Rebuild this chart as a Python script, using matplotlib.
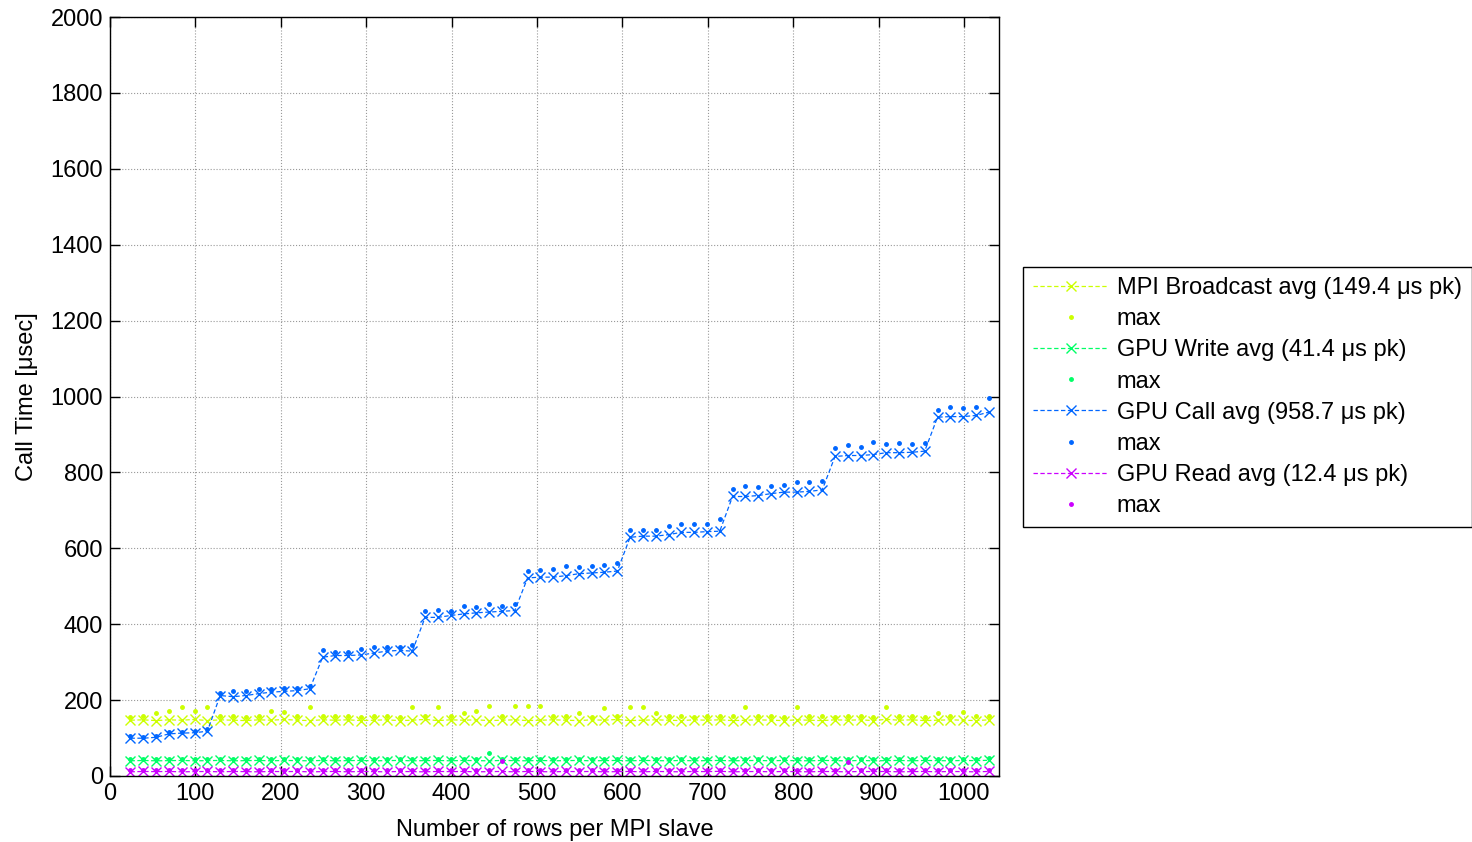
import numpy as np
import matplotlib
matplotlib.use('Agg')
from matplotlib import pyplot as plt

plt.rcParams['font.family'] = ['Liberation Sans', 'DejaVu Sans']

# rows per MPI slave
rows = [24, 39, 54, 69, 84, 99, 114, 129, 144, 159, 174, 189, 204, 219, 234, 249,
        264, 279, 294, 309, 324, 339, 354, 369, 384, 399, 414, 429, 444, 459, 474,
        489, 504, 519, 534, 549, 564, 579, 594, 609, 624, 639, 654, 669, 684, 699,
        714, 729, 744, 759, 774, 789, 804, 819, 834, 849, 864, 879, 894, 909, 924,
        939, 954, 969, 984, 999, 1014, 1029]

bcast_avg = [147, 148, 146, 148, 147, 149, 146, 148, 147, 146, 148, 147, 149, 147,
             146, 148, 147, 148, 146, 147, 148, 146, 147, 149, 146, 148, 147, 148,
             146, 147, 148, 146, 147, 148, 147, 146, 148, 147, 149, 146, 147, 148,
             147, 146, 148, 147, 148, 146, 147, 148, 147, 146, 148, 147, 146, 148,
             147, 148, 146, 149.4, 147, 148, 146, 147, 148, 147, 146, 148]
bcast_max = [156, 158, 167, 172, 183, 172, 183, 157, 158, 156, 159, 170, 168, 157,
             181, 158, 157, 159, 156, 158, 157, 156, 182, 158, 183, 157, 167, 170,
             184, 157, 184, 184, 184, 158, 157, 165, 156, 180, 157, 181, 182, 167,
             158, 157, 156, 158, 157, 158, 181, 157, 158, 156, 182, 157, 158, 156,
             157, 158, 156, 181, 158, 157, 156, 167, 158, 169, 157, 158]

write_avg = [40, 41, 40, 40.5, 41, 40, 40.5, 41, 40, 40.5, 41, 40, 41, 40.5, 40, 41,
             40, 40.5, 41, 40, 40.5, 41, 40, 40.5, 41, 40, 41, 40.5, 40, 41, 40.5,
             40, 41, 40, 40.5, 41, 40, 40.5, 41, 40, 41, 40.5, 40, 41, 40, 40.5,
             41, 40, 40.5, 41, 40, 41, 40.5, 40, 41, 40.5, 40, 41, 40, 40.5, 41,
             40, 41, 40.5, 40, 41, 40.5, 41.4]
write_max = [44, 45, 44, 45, 44, 45, 44, 45, 44, 45, 44, 45, 44, 45, 44, 45, 44,
             45, 44, 45, 44, 45, 44, 45, 44, 45, 44, 45, 60, 44, 45, 44, 45, 44,
             45, 44, 45, 44, 45, 44, 45, 44, 45, 44, 45, 44, 45, 44, 45, 44, 45,
             44, 45, 44, 45, 44, 45, 44, 45, 44, 45, 44, 45, 44, 45, 44, 45, 47]

call_avg = [99.6, 99.6, 102, 111, 113, 114, 118,
            212, 209, 212, 217, 221, 223, 225, 230,
            313, 317.5, 317.5, 319, 324, 329, 331, 329,
            418, 418, 423, 427, 430, 432, 434, 436,
            522, 524, 524, 528, 533, 535, 537, 540,
            629, 632, 632, 636, 642, 642, 644, 645,
            736.5, 736.5, 739, 744, 748, 748, 750, 754,
            842, 844.5, 844.5, 847, 852, 852, 853, 856,
            945.5, 947, 947, 950, 958.7]
call_max = [105, 102, 105, 115, 115, 118, 124,
            218, 225, 223, 230, 230, 232, 232, 236,
            331, 326, 326, 335, 341, 339, 341, 344,
            434, 438, 436, 449, 445, 452, 447, 454,
            540, 543, 546, 553, 550, 553, 557, 562,
            649, 647, 649, 658, 665, 665, 665, 678,
            757, 763, 761, 765, 767, 774, 774, 777,
            865, 871, 868, 880, 875, 877, 875, 877,
            965, 972, 969, 972, 996]

read_avg = [11, 12, 11.5, 12, 11, 11.5, 12, 11, 12, 11.5, 11, 12, 11.5, 12, 11,
            11.5, 12, 11, 12, 11.5, 11, 12, 11.5, 11, 12, 11.5, 12, 11, 11.5, 12,
            11, 12, 11.5, 11, 12, 11.5, 12, 11, 11.5, 12, 11, 12, 11.5, 11, 12,
            11.5, 12.4, 11, 11.5, 12, 11, 12, 11.5, 11, 12, 11.5, 11, 12, 11.5, 12,
            11, 11.5, 12, 11, 12, 11.5, 11, 12]
read_max = [15, 16, 15, 16, 15, 16, 15, 16, 15, 16, 15, 16, 15, 16, 15, 16, 15,
            16, 15, 16, 15, 16, 15, 16, 15, 16, 15, 16, 15, 40, 16, 15, 16, 15,
            16, 15, 16, 15, 16, 15, 16, 15, 16, 15, 16, 15, 16, 15, 16, 15, 16,
            15, 16, 15, 16, 15, 37, 16, 15, 16, 15, 16, 15, 16, 15, 16, 15, 16]

series = [
    ('MPI Broadcast avg (149.4 \u03bcs pk)', bcast_avg, bcast_max, '#ccff00'),
    ('GPU Write avg (41.4 \u03bcs pk)', write_avg, write_max, '#00ff66'),
    ('GPU Call avg (958.7 \u03bcs pk)', call_avg, call_max, '#0066ff'),
    ('GPU Read avg (12.4 \u03bcs pk)', read_avg, read_max, '#cc00ff'),
]

fig = plt.figure(figsize=(14.72, 8.42), dpi=100)
ax = fig.add_axes([110 / 1472, 1 - 776 / 842, 889 / 1472, 759 / 842])

for label, avg, mx, col in series:
    ax.plot(rows, avg, linestyle='--', dashes=(3.5, 2), linewidth=0.9, color=col,
            marker='x', markersize=6.5, markeredgewidth=1.0, label=label)
    ax.plot(rows, mx, linestyle='none', color=col, marker='.', markersize=5,
            label='max')

ax.set_xlim(0, 1041)
ax.set_ylim(0, 2000)
ax.set_xticks(range(0, 1001, 100))
ax.set_yticks(range(0, 2001, 200))
ax.tick_params(direction='in', length=7, width=1, top=True, right=True,
               labelsize=17, pad=5)
ax.grid(True, linestyle=':', color='#999999', linewidth=0.8)
for s in ax.spines.values():
    s.set_linewidth(1)
ax.set_xlabel('Number of rows per MPI slave', fontsize=17, labelpad=10)
ax.set_ylabel('Call Time [\u03bcsec]', fontsize=17, labelpad=9)

leg = fig.legend(loc='upper left', bbox_to_anchor=(1023 / 1472, 1 - 267 / 842),
                 bbox_transform=fig.transFigure, borderaxespad=0, fontsize=17,
                 handlelength=3.2, numpoints=1, labelspacing=0.39,
                 fancybox=False, edgecolor='black', framealpha=1,
                 borderpad=0.42, handletextpad=0.35)
leg.get_frame().set_linewidth(1)

plt.savefig('out.png', dpi=100)
